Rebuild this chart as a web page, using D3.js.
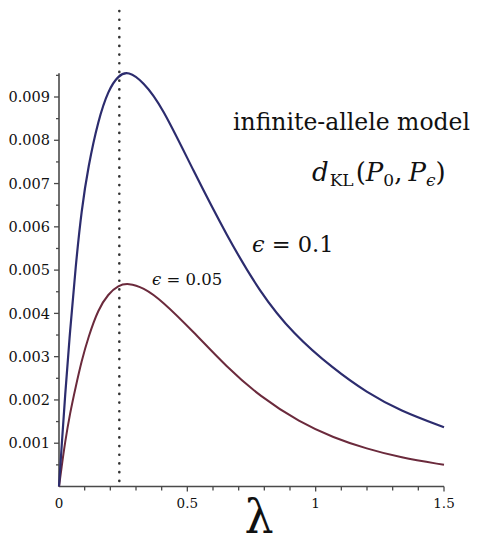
<!DOCTYPE html>
<html>
<head>
<meta charset="utf-8">
<script src="https://cdn.jsdelivr.net/npm/d3@7"></script>
<style>
  html, body { margin: 0; padding: 0; background: #fff; }
  svg { display: block; }
  svg text { font-family: "DejaVu Serif", serif; }
</style>
</head>
<body>
<svg id="chart" width="477" height="549"></svg>
<script>
// ---- data ----
const lambdaHi = [0, 0.01, 0.023, 0.043, 0.065, 0.088, 0.114, 0.153, 0.192, 0.231, 0.27, 0.328, 0.4, 0.523, 0.653, 0.783, 0.913, 1.069, 1.199, 1.329, 1.5];
const klHi     = [0, 0.0009, 0.00205, 0.0036, 0.0051, 0.0064, 0.0074, 0.00847, 0.00916, 0.0095, 0.0096, 0.00935, 0.0088, 0.0073, 0.0058, 0.00448, 0.00352, 0.00272, 0.00217, 0.00175, 0.00137];
const lambdaLo = [0, 0.01, 0.023, 0.043, 0.065, 0.088, 0.114, 0.153, 0.192, 0.231, 0.27, 0.328, 0.4, 0.523, 0.653, 0.783, 0.939, 1.069, 1.199, 1.329, 1.5];
const klLo     = [0, 0.00044, 0.001, 0.0017, 0.0023, 0.0029, 0.00345, 0.0041, 0.00445, 0.00465, 0.0047, 0.0046, 0.0043, 0.00358, 0.00276, 0.00208, 0.00148, 0.00113, 0.00087, 0.00067, 0.0005];
const lambdaStar = 0.235;
const xTicks = [0, 0.5, 1, 1.5];
const xTickLabels = ["0", "0.5", "1", "1.5"];
const yTicks = [0.001, 0.002, 0.003, 0.004, 0.005, 0.006, 0.007, 0.008, 0.009];
const yTickLabels = ["0.001", "0.002", "0.003", "0.004", "0.005", "0.006", "0.007", "0.008", "0.009"];

const FONT = "DejaVu Serif";
const svg = d3.select("#chart");
const x = d3.scaleLinear().domain([0, 1.5]).range([59, 444]);
const y = d3.scaleLinear().domain([0, 0.009]).range([486.5, 97]);
const yTop = 0.00955;

const axisColor = "#4a4a4a";

// dotted vertical line
svg.append("line")
  .attr("x1", x(lambdaStar)).attr("x2", x(lambdaStar))
  .attr("y1", 11).attr("y2", y(0) - 2)
  .attr("stroke", "#333").attr("stroke-width", 2.6)
  .attr("stroke-linecap", "round")
  .attr("stroke-dasharray", "0.1 8.6");

// y axis
const gy = svg.append("g").attr("transform", `translate(${x(0)},0)`);
gy.append("line").attr("x1", 0).attr("x2", 0).attr("y1", y(0)).attr("y2", y(yTop))
  .attr("stroke", axisColor).attr("stroke-width", 1.6);
const yMinor = d3.range(1, 20).map(i => i * 0.0005);
gy.selectAll("line.tk").data(yMinor).join("line").attr("class", "tk")
  .attr("x1", d => Math.round(d / 0.0005) % 2 === 0 ? -5 : -3).attr("x2", 0)
  .attr("y1", d => y(d)).attr("y2", d => y(d))
  .attr("stroke", axisColor).attr("stroke-width", 1.3);
gy.selectAll("text").data(yTicks).join("text")
  .style("font-family", FONT)
  .attr("x", -9).attr("y", d => y(d)).attr("dy", "0.36em")
  .attr("text-anchor", "end").attr("font-size", 14.5).attr("fill", "#111")
  .text((d, i) => yTickLabels[i]);

// x axis
const gx = svg.append("g").attr("transform", `translate(0,${y(0)})`);
gx.append("line").attr("x1", x(0)).attr("x2", x(1.5)).attr("y1", 0).attr("y2", 0)
  .attr("stroke", axisColor).attr("stroke-width", 1.6);
const xMinor = d3.range(1, 16).map(i => i * 0.1);
gx.selectAll("line.tk").data(xMinor).join("line").attr("class", "tk")
  .attr("x1", d => x(d)).attr("x2", d => x(d))
  .attr("y1", 0).attr("y2", d => (Math.round(d * 10) % 5 === 0) ? 5 : 4)
  .attr("stroke", axisColor).attr("stroke-width", 1.3);
gx.selectAll("text").data(xTicks).join("text")
  .style("font-family", FONT)
  .attr("x", d => x(d)).attr("y", 21)
  .attr("text-anchor", "middle").attr("font-size", 13.5).attr("fill", "#111")
  .text((d, i) => xTickLabels[i]);

// curves
const line = d3.line().x(d => x(d[0])).y(d => y(d[1])).curve(d3.curveBasis);
svg.append("path").datum(lambdaLo.map((l, i) => [l, klLo[i]]))
  .attr("d", line).attr("fill", "none").attr("stroke", "#6b2a3c").attr("stroke-width", 2);
svg.append("path").datum(lambdaHi.map((l, i) => [l, klHi[i]]))
  .attr("d", line).attr("fill", "none").attr("stroke", "#2c2c6e").attr("stroke-width", 2.2);

// texts
function txt(xp, yp, size) {
  return svg.append("text").style("font-family", FONT).attr("fill", "#111")
    .attr("x", xp).attr("y", yp).attr("font-size", size);
}
txt(233, 130, 23.5).text("infinite-allele model");

const t = txt(312, 181, 26);
t.append("tspan").attr("font-style", "italic").text("d");
t.append("tspan").attr("font-size", 17).attr("dy", 5).attr("dx", 1).text("KL");
t.append("tspan").attr("dy", -5).attr("dx", 2).text("(");
t.append("tspan").attr("font-style", "italic").text("P");
t.append("tspan").attr("font-size", 17).attr("dy", 5).text("0");
t.append("tspan").attr("dy", -5).text(",");
t.append("tspan").attr("font-style", "italic").attr("dx", 6).text("P");
t.append("tspan").attr("font-size", 17).attr("dy", 5).attr("font-style", "italic").text("ϵ");
t.append("tspan").attr("dy", -5).text(")");

const e1 = txt(252, 252, 22.5);
e1.append("tspan").attr("font-style", "italic").text("ϵ");
e1.append("tspan").text(" = 0.1");
const e2 = txt(152, 285, 16.5);
e2.append("tspan").attr("font-style", "italic").text("ϵ");
e2.append("tspan").text(" = 0.05");

txt(259, 533, 46).attr("text-anchor", "middle").text("λ");
</script>
</body>
</html>
